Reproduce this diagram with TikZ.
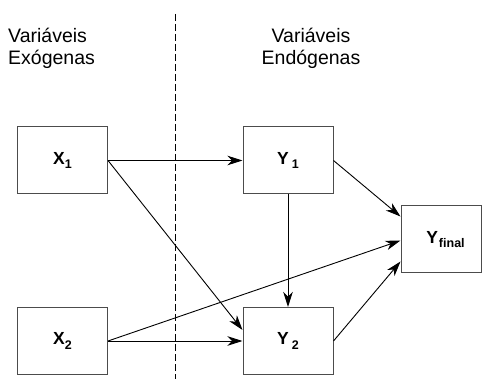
\documentclass[tikz,border=0pt]{standalone}
\usepackage{fontspec}
\setmainfont{Liberation Sans}
\usetikzlibrary{arrows.meta}
\newcommand{\varlabel}[2]{\bfseries\fontsize{17.5}{17.5}\selectfont #1\raisebox{-4.4pt}{\fontsize{12.5}{12.5}\selectfont #2}}
\begin{document}
\begin{tikzpicture}[x=1pt,y=-1pt,
  varbox/.style={draw=black!70, line width=1pt, minimum width=90pt, minimum height=67pt, inner sep=0pt},
  heading/.style={font=\fontsize{19.5}{22}\selectfont, inner sep=0pt},
  link/.style={line width=0.9pt, -{Stealth[length=15pt,width=9.5pt,inset=4.5pt]}}]
  \useasboundingbox (0,0) rectangle (482,379);

  % column headings
  \node[heading, align=left, anchor=north west] (hexo) at (8,28) {Variáveis\\Exógenas};
  \node[heading, align=center, anchor=north] (hendo) at (311,28) {Variáveis\\Endógenas};

  % separator between exogenous and endogenous variables
  \coordinate (septop) at (175.7,14);
  \coordinate (sepbot) at (175.7,379);
  \draw[line width=0.8pt, dash pattern=on 7pt off 3pt] (septop) -- (sepbot);

  % variables
  \node[varbox] (X1) at (62.5,160.5) {\varlabel{X}{1}};
  \node[varbox] (X2) at (62.5,341) {\varlabel{X}{2}};
  \node[varbox] (Y1) at (288,160.5) {\varlabel{Y\kern3pt}{1}};
  \node[varbox] (Y2) at (288,341) {\varlabel{Y\kern3pt}{2}};
  \node[varbox, minimum width=80pt] (Yf) at (441,239.5) {\hspace*{9pt}\varlabel{Y\kern1pt}{final}};

  % effects
  \draw[link] (X1.east) -- (Y1.west);
  \draw[link] (X1.east) -- ([yshift=11pt]Y2.west);
  \draw[link] (X2.east) -- (Y2.west);
  \draw[link] (X2.east) -- ([yshift=-1pt]Yf.west);
  \draw[link] (Y1.south) -- (Y2.north);
  \draw[link] (Y1.east) -- ([yshift=23pt]Yf.west);
  \draw[link] (Y2.east) -- ([yshift=-22pt]Yf.west);
\end{tikzpicture}
\end{document}
